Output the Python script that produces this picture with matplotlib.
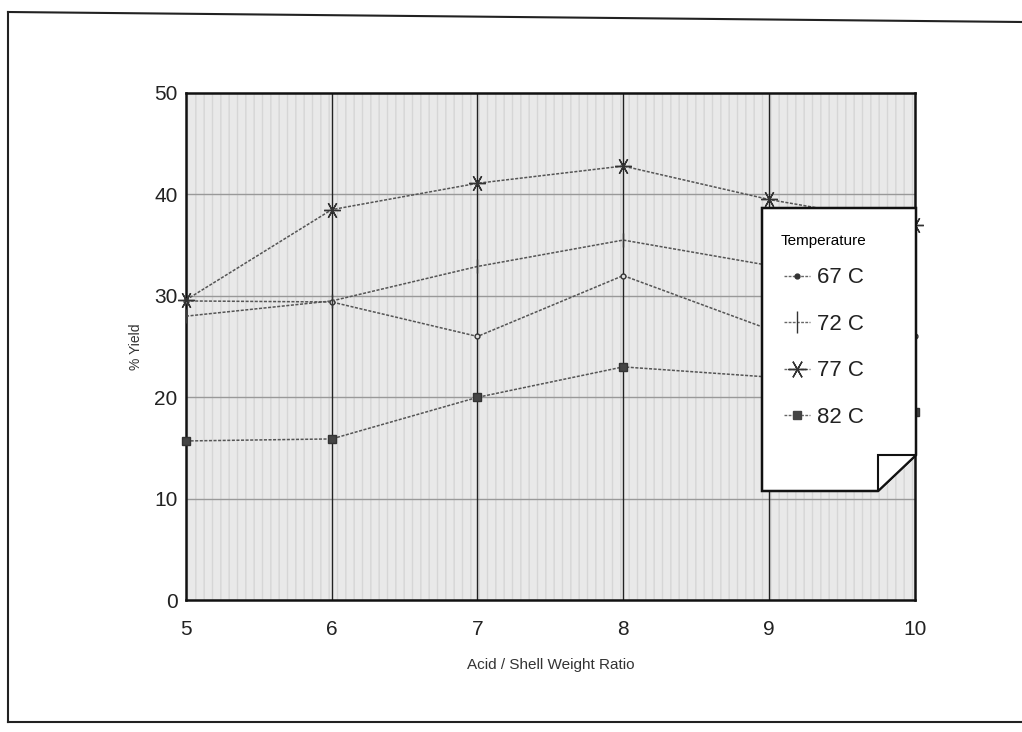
import matplotlib.pyplot as plt
from matplotlib.lines import Line2D
from matplotlib.patches import Polygon

plt.rcParams['font.family'] = ['Liberation Sans', 'DejaVu Sans']

ratio = [5, 6, 7, 8, 9, 10]
yield_67 = [29.5, 29.4, 26.0, 32.0, 26.7, 26.0]
yield_72 = [28.0, 29.5, 32.9, 35.5, 33.0, 26.6]
yield_77 = [29.6, 38.5, 41.1, 42.8, 39.5, 37.0]
yield_82 = [15.7, 15.9, 20.0, 23.0, 22.0, 18.6]
labels = ["67 C", "72 C", "77 C", "82 C"]

fig = plt.figure(figsize=(10.22, 7.32), dpi=100)
ax = fig.add_axes([0.182, 0.18, 0.713, 0.693])

# stippled grey plot area
ax.set_facecolor('#e9e9e9')
ax.fill_between([5, 10], 0, 50, facecolor='none', edgecolor='#d6d6d6', hatch='||', linewidth=0, zorder=0)

for v in [10, 20, 30, 40]:
    ax.axhline(v, color='#999999', lw=1.0, zorder=1)
for v in [6, 7, 8, 9]:
    ax.axvline(v, color='#222222', lw=1.0, zorder=1)

ls = (0, (2, 1))
ax.plot(ratio, yield_67, color='#555555', lw=1.1, ls=ls, marker='o', ms=3.5, mfc='#dddddd', mec='#333333', clip_on=False, zorder=3)
ax.plot(ratio, yield_72, color='#555555', lw=1.1, ls=ls, marker='|', ms=10, mec='#333333', clip_on=False, zorder=3)
ax.plot(ratio, yield_77, color='#555555', lw=1.1, ls=ls, marker=(6, 2, 30), ms=12, mec='#333333', clip_on=False, zorder=3)
ax.plot(ratio, yield_82, color='#555555', lw=1.1, ls=ls, marker='s', ms=6, mfc='#444444', mec='#333333', clip_on=False, zorder=3)

ax.set_xlim(5, 10)
ax.set_ylim(0, 50)
ax.set_xticks(ratio)
ax.set_yticks([0, 10, 20, 30, 40, 50])
ax.tick_params(length=0, labelsize=15, colors='#222222')
ax.tick_params(axis='x', pad=14)
ax.tick_params(axis='y', pad=6)
for s in ax.spines.values():
    s.set_linewidth(1.8)
    s.set_color('#111111')

ax.set_ylabel("% Yield", fontsize=10, color='#333333', labelpad=8)
ax.set_xlabel("Acid / Shell Weight Ratio", fontsize=11, color='#333333', labelpad=14)

# legend box with folded corner (pixel coords -> figure fraction)
W, H = 1022, 732
def fp(x, y):
    return (x / W, 1 - y / H)

box = Polygon([fp(762, 208), fp(916, 208), fp(916, 455), fp(878, 491), fp(762, 491)],
              closed=True, facecolor='white', edgecolor='#111111', lw=1.8,
              transform=fig.transFigure, zorder=5)
fig.patches.append(box)
fold = Polygon([fp(878, 455), fp(916, 455), fp(878, 491)], closed=True,
               facecolor='white', edgecolor='#111111', lw=1.5,
               transform=fig.transFigure, zorder=6)
fig.patches.append(fold)

handles = [
    Line2D([], [], color='#666666', lw=1, ls=ls, marker='o', ms=3.5, mfc='#333333', mec='#333333'),
    Line2D([], [], color='#666666', lw=1, ls=ls, marker='|', ms=16, mec='#333333'),
    Line2D([], [], color='#666666', lw=1, ls=ls, marker=(6, 2, 30), ms=13, mec='#333333'),
    Line2D([], [], color='#666666', lw=1, ls=ls, marker='s', ms=6, mfc='#444444', mec='#444444'),
]
leg = fig.legend(handles, labels, title="Temperature", loc='upper left',
                 bbox_to_anchor=fp(772, 225), frameon=False, fontsize=16,
                 title_fontsize=11, handlelength=1.2, handletextpad=0.3,
                 labelspacing=1.15, borderaxespad=0)
leg.set_zorder(7)
leg._legend_box.sep = 14
for t in leg.get_texts():
    t.set_color('#222222')

# outer page frame
for xs, ys in [([8, 1022], [12, 22]), ([8, 8], [12, 722]), ([8, 1022], [722, 722])]:
    fig.add_artist(Line2D([x / W for x in xs], [1 - y / H for y in ys], color='#222222', lw=1.5))

fig.savefig("out.png", dpi=100, facecolor='white')
